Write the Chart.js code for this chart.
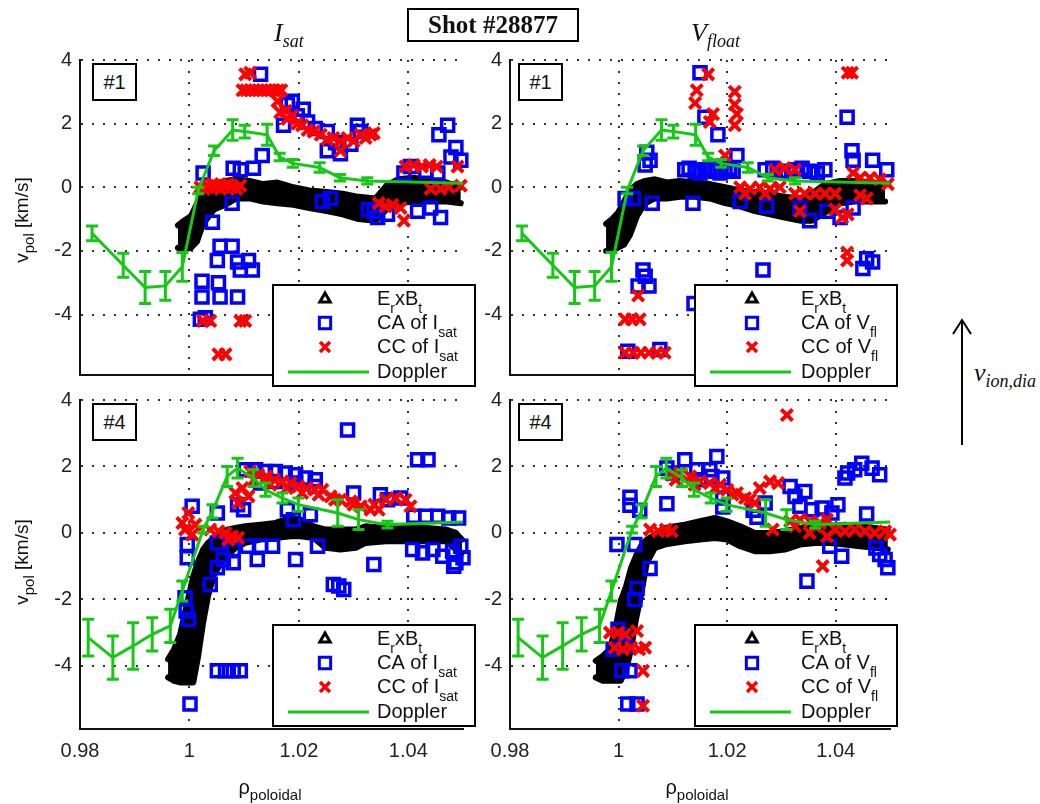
<!DOCTYPE html>
<html>
<head>
<meta charset="utf-8">
<script src="https://cdn.jsdelivr.net/npm/chart.js@4.4.1/dist/chart.umd.min.js"></script>
<style>
body { margin:0; background:#fff; width:1040px; height:804px; overflow:hidden; position:relative;
       font-family:"Liberation Sans", Arial, sans-serif; color:#111; }
canvas { position:absolute; }
.tag { position:absolute; border:2px solid #000; width:41px; height:34px; line-height:34px;
       text-align:center; font-size:20px; background:#fff; }
.ttl { position:absolute; font:italic 26px "Liberation Serif", serif; line-height:30px; white-space:nowrap; }
.ttl span { font-size:18px; position:relative; top:6px; }
.ylab { position:absolute; font-size:19px; white-space:nowrap; transform:translate(-50%,-50%) rotate(-90deg); }
.xlab { position:absolute; font-size:20px; white-space:nowrap; transform:translate(-50%,-50%); }
.ylab span, .xlab span { font-size:15px; position:relative; top:6px; }
#shot { position:absolute; left:407px; top:8px; width:168px; height:30px; border:2px solid #000;
        font:bold 25px "Liberation Serif", serif; line-height:30px; text-align:center; }
</style>
</head>
<body>
<canvas id="cTL" width="485" height="355" style="left:0;top:40px"></canvas>
<canvas id="cTR" width="480" height="355" style="left:430px;top:40px"></canvas>
<canvas id="cBL" width="485" height="420" style="left:0;top:380px"></canvas>
<canvas id="cBR" width="480" height="420" style="left:430px;top:380px"></canvas>

<div id="shot">Shot #28877</div>
<div class="ttl" style="left:274px;top:18px">I<span>sat</span></div>
<div class="ttl" style="left:691px;top:18px">V<span>float</span></div>
<div class="tag" style="left:92px;top:63px">#1</div>
<div class="tag" style="left:518px;top:63px">#1</div>
<div class="tag" style="left:92px;top:403px">#4</div>
<div class="tag" style="left:518px;top:403px">#4</div>
<div class="ylab" style="left:22px;top:220px">v<span>pol</span> [km/s]</div>
<div class="ylab" style="left:22px;top:562px">v<span>pol</span> [km/s]</div>
<div class="xlab" style="left:270px;top:787px">ρ<span>poloidal</span></div>
<div class="xlab" style="left:697px;top:787px">ρ<span>poloidal</span></div>
<svg style="position:absolute;left:950px;top:315px" width="26" height="135">
  <line x1="12" y1="5" x2="12" y2="130" stroke="#000" stroke-width="2"/>
  <polyline points="3,19 12,5 21,19" fill="none" stroke="#000" stroke-width="2"/>
</svg>
<div class="ttl" style="left:974px;top:358px">v<span>ion,dia</span></div>

<script>
const GREEN = 'rgb(20,200,20)';
const BLUE = '#0000ff';
const RED = '#ff0000';

// Doppler, probe #1 row (same in both columns)
const dopX1 = [0.9822, 0.9879, 0.9919, 0.9956, 0.9987, 1.0016, 1.0045, 1.0079, 1.0101, 1.0142, 1.0165, 1.0189, 1.0238, 1.0275, 1.0325, 1.0500];
const dopV1 = [-1.45, -2.45, -3.15, -3.1, -2.5, -0.1, 1.15, 1.8, 1.75, 1.65, 0.95, 0.75, 0.62, 0.3, 0.2, 0.13];
const dopE1 = [0.23, 0.38, 0.5, 0.45, 0.45, 0.1, 0.15, 0.32, 0.2, 0.33, 0.12, 0.12, 0.15, 0.1, 0.1, 0];

// Doppler, probe #4 row
const dopX4 = [0.9815, 0.9860, 0.9897, 0.9932, 0.9965, 0.9987, 1.0025, 1.0042, 1.0069, 1.0088, 1.0117, 1.0139, 1.0170, 1.0199, 1.0271, 1.0309, 1.0362, 1.0500];
const dopV4 = [-3.15, -3.75, -3.4, -3.05, -2.8, -1.75, 0.1, 0.65, 1.7, 1.95, 1.65, 1.3, 1.05, 0.85, 0.6, 0.4, 0.25, 0.33];
const dopE4 = [0.55, 0.65, 0.7, 0.5, 0.5, 0.3, 0.1, 0.2, 0.3, 0.3, 0.25, 0.2, 0.15, 0.2, 0.4, 0.3, 0.1, 0];

// ExB band (upper / lower edge of the point cloud)
const exbX_TL = [0.9979, 0.9990, 1.0003, 1.0014, 1.0025, 1.0045, 1.0066, 1.0086, 1.0110, 1.0135, 1.0161, 1.0190, 1.0219, 1.0251, 1.0280, 1.0309, 1.0340, 1.0360, 1.0381, 1.0410, 1.0439, 1.0470, 1.0496];
const exbHi_TL = [-1.2, -1.05, -0.9, -0.5, -0.15, 0.1, 0.2, 0.25, 0.2, 0.1, 0.15, 0.0, -0.1, -0.15, -0.2, -0.3, -0.35, 0.05, 0.25, 0.3, 0.2, 0.15, 0.0];
const exbLo_TL = [-1.9, -1.95, -1.9, -1.7, -1.15, -0.7, -0.55, -0.35, -0.35, -0.45, -0.5, -0.55, -0.65, -0.75, -0.85, -1.0, -1.05, -0.7, -0.5, -0.45, -0.45, -0.45, -0.5];

const exbX_TR = [0.9977, 0.9988, 0.9999, 1.0010, 1.0021, 1.0034, 1.0049, 1.0067, 1.0089, 1.0113, 1.0141, 1.0168, 1.0196, 1.0224, 1.0251, 1.0279, 1.0306, 1.0334, 1.0356, 1.0380, 1.0408, 1.0435, 1.0463, 1.0491];
const exbHi_TR = [-1.15, -1.0, -0.8, -0.45, -0.1, 0.1, 0.2, 0.25, 0.15, 0.2, 0.15, 0.1, 0.0, -0.1, -0.15, -0.2, -0.3, -0.35, -0.2, 0.1, 0.2, 0.2, 0.15, 0.1];
const exbLo_TR = [-2.0, -2.0, -1.9, -1.8, -1.5, -0.9, -0.5, -0.35, -0.35, -0.3, -0.3, -0.35, -0.5, -0.6, -0.75, -0.85, -0.95, -1.05, -1.05, -0.8, -0.5, -0.45, -0.45, -0.45];

const exbX_BL = [0.9961, 0.9972, 0.9983, 0.9996, 1.0007, 1.0016, 1.0025, 1.0034, 1.0044, 1.0056, 1.0069, 1.0084, 1.0102, 1.0130, 1.0157, 1.0185, 1.0203, 1.0227, 1.0249, 1.0276, 1.0304, 1.0322, 1.0359, 1.0395, 1.0432, 1.0469, 1.0487, 1.0498];
const exbHi_BL = [-3.8, -3.5, -3.05, -2.1, -1.3, -0.85, -0.5, -0.3, -0.15, 0.0, 0.1, 0.15, 0.2, 0.25, 0.3, 0.45, 0.4, 0.2, 0.1, 0.1, 0.1, 0.2, 0.15, 0.15, 0.15, 0.1, 0.0, -0.2];
const exbLo_BL = [-4.35, -4.45, -4.5, -4.5, -4.5, -3.7, -2.7, -1.9, -1.3, -0.95, -0.7, -0.45, -0.3, -0.2, -0.15, -0.1, -0.1, -0.15, -0.45, -0.5, -0.45, -0.3, -0.25, -0.25, -0.25, -0.25, -0.5, -0.6];

const exbX_BR = [0.9958, 0.9971, 0.9984, 0.9995, 1.0004, 1.0014, 1.0023, 1.0032, 1.0041, 1.0052, 1.0067, 1.0085, 1.0104, 1.0122, 1.0150, 1.0178, 1.0200, 1.0224, 1.0251, 1.0279, 1.0306, 1.0334, 1.0362, 1.0389, 1.0417, 1.0445, 1.0472, 1.0496];
const exbHi_BR = [-3.85, -3.7, -3.5, -2.8, -2.05, -1.6, -1.05, -0.7, -0.4, -0.2, -0.05, 0.15, 0.2, 0.25, 0.35, 0.45, 0.35, 0.2, 0.0, 0.0, 0.05, 0.15, 0.2, 0.2, 0.25, 0.2, 0.15, 0.1];
const exbLo_BR = [-4.35, -4.45, -4.45, -4.45, -4.45, -4.1, -3.5, -2.6, -1.9, -0.9, -0.45, -0.35, -0.3, -0.25, -0.2, -0.15, -0.2, -0.4, -0.55, -0.55, -0.5, -0.35, -0.3, -0.3, -0.35, -0.4, -0.45, -0.5];

// conditional average (blue squares)
const caX_TL = [1.0130, 1.0188, 1.0208, 1.0179, 1.0197, 1.0172, 1.0216, 1.0230, 1.0252, 1.0307, 1.0313, 1.0252, 1.0276, 1.0295, 1.0267, 1.0025, 1.0080, 1.0117, 1.0133, 1.0093, 1.0078, 1.0042, 1.0243, 1.0258, 1.0327, 1.0337, 1.0344, 1.0362, 1.0392, 1.0404, 1.0432, 1.0454, 1.0417, 1.0441, 1.0459, 1.0472, 1.0456, 1.0487, 1.0478, 1.0496, 1.0056, 1.0078, 1.0051, 1.0088, 1.0108, 1.0115, 1.0093, 1.0023, 1.0053, 1.0023, 1.0056, 1.0088, 1.0020, 1.0029];
const caV_TL = [3.55, 2.7, 2.45, 2.6, 2.25, 1.95, 2.05, 1.85, 1.75, 1.95, 1.75, 1.15, 1.05, 1.35, 1.4, 0.45, 0.6, 0.6, 1.0, 0.55, -0.5, -1.1, -0.45, -0.35, -0.7, -0.75, -0.95, -0.85, 0.45, 0.65, 0.5, 0.45, -0.75, -0.65, -0.95, 1.95, 1.65, 1.25, 0.95, 0.85, -1.85, -1.85, -2.3, -2.35, -2.3, -2.6, -2.6, -2.95, -3.0, -3.45, -3.45, -3.45, -4.15, -4.1];

const caX_TR = [1.0150, 1.0159, 1.0183, 1.0218, 1.0421, 1.0052, 1.0058, 1.0049, 1.0012, 1.0027, 1.0062, 1.0137, 1.0122, 1.0141, 1.0159, 1.0178, 1.0196, 1.0211, 1.0270, 1.0297, 1.0325, 1.0352, 1.0380, 1.0224, 1.0273, 1.0352, 1.0334, 1.0384, 1.0408, 1.0432, 1.0430, 1.0432, 1.0468, 1.0494, 1.0457, 1.0468, 1.0450, 1.0045, 1.0266, 1.0049, 1.0036, 1.0056, 1.0139, 1.0017, 1.0076, 1.0130, 1.0150, 1.0168, 1.0187, 1.0204, 1.0284, 1.0311, 1.0338, 1.0366];
const caV_TR = [3.6, 2.2, 1.65, 1.0, 2.2, 1.1, 0.85, 0.7, -0.35, -0.35, -0.5, -0.5, 0.55, 0.5, 0.55, 0.5, 0.55, 0.5, 0.55, 0.5, 0.55, 0.5, 0.55, -0.45, -0.6, -1.05, -0.65, -0.75, -0.95, -0.65, 1.15, 0.85, 0.85, 0.55, -2.25, -2.35, -2.55, -2.6, -2.6, -2.8, -3.1, -3.1, -3.65, -5.15, -5.1, 0.6, 0.45, 0.6, 0.45, 0.6, 0.6, 0.45, 0.6, 0.45];

const caX_BL = [1.0289, 1.0417, 1.0436, 1.0102, 1.0121, 1.0139, 1.0157, 1.0175, 1.0194, 1.0212, 1.0230, 1.0300, 1.0349, 1.0362, 1.0386, 1.0005, 1.0051, 1.0088, 1.0099, 1.0179, 1.0190, 1.0221, 1.0410, 1.0432, 1.0454, 1.0474, 1.0492, 0.9996, 0.9996, 1.0051, 1.0080, 1.0106, 1.0130, 1.0152, 1.0062, 1.0080, 1.0051, 1.0124, 1.0038, 1.0194, 1.0234, 1.0337, 1.0263, 1.0282, 1.0273, 1.0408, 1.0426, 1.0445, 1.0463, 1.0481, 1.0496, 1.0500, 1.0487, 1.0483, 0.9992, 0.9994, 0.9998, 1.0051, 1.0066, 1.0080, 1.0093, 1.0001, 1.0130, 1.0157, 1.0194, 1.0230];
const caV_BL = [3.1, 2.2, 2.2, 1.9, 1.9, 1.85, 1.85, 1.8, 1.75, 1.65, 1.6, 1.2, 1.15, 1.0, 1.05, 0.8, 0.6, 0.85, 0.7, 0.7, 0.4, 0.55, 0.5, 0.5, 0.5, 0.45, 0.45, -0.35, -0.75, -0.3, -0.5, -0.4, -0.4, -0.4, -0.8, -0.9, -1.05, -0.8, -1.55, -0.8, -0.4, -0.95, -1.55, -1.7, -1.6, -0.5, -0.6, -0.5, -0.7, -0.55, -0.4, -0.75, -0.9, -1.0, -1.95, -2.35, -2.6, -4.15, -4.15, -4.15, -4.15, -5.15, 1.5, 1.55, 1.5, 1.4];

const caX_BR = [1.0181, 1.0122, 1.0089, 1.0100, 1.0144, 1.0168, 1.0192, 1.0150, 1.0172, 1.0089, 1.0021, 1.0021, 1.0039, 0.9997, 1.0030, 1.0058, 1.0034, 1.0030, 0.9999, 0.9990, 1.0012, 1.0006, 1.0021, 1.0017, 1.0034, 1.0192, 1.0192, 1.0248, 1.0255, 1.0270, 1.0316, 1.0325, 1.0343, 1.0334, 1.0356, 1.0375, 1.0393, 1.0404, 1.0389, 1.0411, 1.0347, 1.0417, 1.0435, 1.0448, 1.0467, 1.0481, 1.0422, 1.0457, 1.0474, 1.0491, 1.0496, 1.0481];
const caV_BR = [2.3, 2.2, 1.95, 1.8, 1.9, 1.9, 1.65, 1.6, 1.7, 0.88, 1.07, 0.83, 0.68, -0.35, -0.35, -1.07, -1.67, -2.0, -2.9, -3.5, -3.4, -4.15, -4.15, -5.15, -5.15, 1.05, 0.78, 0.68, 0.47, 0.9, 1.4, 1.1, 1.25, 0.8, 0.7, 0.75, 0.6, 0.85, -0.4, -0.7, -1.45, 1.65, 1.9, 2.1, 1.95, 1.75, 1.8, 0.57, -0.45, -0.8, -1.05, -0.65];

// cross correlation (red crosses)
const ccX_TL = [1.0102, 1.0111, 1.0097, 1.0111, 1.0126, 1.0141, 1.0155, 1.0168, 1.0161, 1.0166, 1.0179, 1.0197, 1.0216, 1.0240, 1.0263, 1.0289, 1.0313, 1.0331, 1.0337, 1.0176, 1.0188, 1.0206, 1.0227, 1.0252, 1.0276, 1.0300, 1.0322, 1.0276, 1.0020, 1.0034, 1.0049, 1.0064, 1.0078, 1.0093, 1.0395, 1.0410, 1.0425, 1.0439, 1.0452, 1.0441, 1.0459, 1.0474, 1.0496, 1.0490, 1.0346, 1.0359, 1.0371, 1.0386, 1.0392, 1.0025, 1.0038, 1.0093, 1.0102, 1.0053, 1.0066, 1.0104, 1.0119, 1.0133, 1.0148, 1.0162, 1.0027, 1.0042, 1.0057, 1.0071, 1.0086];
const ccV_TL = [3.55, 3.6, 3.05, 3.05, 3.05, 3.05, 3.05, 3.05, 2.7, 2.35, 2.15, 2.0, 1.8, 1.65, 1.55, 1.55, 1.65, 1.65, 1.7, 2.4, 2.25, 1.95, 1.75, 1.5, 1.45, 1.45, 1.55, 1.15, 0.0, 0.05, 0.0, 0.05, 0.0, 0.05, 0.65, 0.7, 0.65, 0.7, 0.65, -0.05, -0.05, 0.0, 0.05, 0.65, -0.5, -0.6, -0.55, -0.65, -1.05, -4.2, -4.2, -4.2, -4.2, -5.25, -5.25, 3.05, 3.05, 3.05, 3.05, 3.05, -0.05, 0.1, -0.05, 0.1, -0.05];

const ccX_TR = [1.0165, 1.0430, 1.0422, 1.0144, 1.0141, 1.0174, 1.0168, 1.0214, 1.0214, 1.0218, 1.0214, 1.0196, 1.0224, 1.0242, 1.0260, 1.0279, 1.0297, 1.0233, 1.0270, 1.0288, 1.0306, 1.0325, 1.0325, 1.0343, 1.0362, 1.0380, 1.0399, 1.0334, 1.0399, 1.0412, 1.0422, 1.0432, 1.0445, 1.0463, 1.0481, 1.0496, 1.0445, 1.0457, 1.0421, 1.0421, 1.0036, 1.0012, 1.0025, 1.0039, 1.0012, 1.0027, 1.0041, 1.0056, 1.0071, 1.0085];
const ccV_TR = [3.55, 3.6, 3.6, 3.05, 2.65, 2.3, 2.05, 3.0, 2.6, 2.3, 1.95, 1.0, 0.0, -0.05, 0.0, -0.05, 0.0, -0.2, -0.2, 0.55, 0.6, 0.55, -0.2, -0.2, -0.2, -0.2, -0.2, -0.75, -0.7, -0.95, -0.85, 0.45, 0.3, 0.3, 0.25, 0.1, -0.25, -0.35, -2.05, -2.3, -3.4, -4.15, -4.15, -4.15, -5.2, -5.2, -5.2, -5.2, -5.2, -5.2];

const ccX_BL = [0.9987, 0.9998, 0.9992, 1.0005, 1.0011, 1.0038, 1.0053, 1.0066, 1.0078, 1.0089, 1.0071, 1.0084, 1.0097, 1.0108, 1.0089, 1.0111, 1.0126, 1.0141, 1.0155, 1.0170, 1.0185, 1.0199, 1.0214, 1.0229, 1.0243, 1.0258, 1.0276, 1.0295, 1.0313, 1.0331, 1.0346, 1.0359, 1.0377, 1.0395, 1.0404, 1.0118, 1.0148, 1.0178, 1.0206, 1.0236, 1.0266, 1.0300, 1.0338];
const ccV_BL = [0.3, 0.6, 0.1, -0.05, 0.25, 0.1, 0.05, 0.0, -0.1, -0.15, -0.2, 1.2, 1.35, 1.1, 0.9, 1.85, 1.75, 1.7, 1.6, 1.55, 1.5, 1.4, 1.35, 1.3, 1.3, 1.1, 1.0, 0.95, 0.8, 0.7, 0.7, 1.0, 1.05, 1.0, 0.8, 1.6, 1.45, 1.35, 1.2, 1.15, 1.0, 0.85, 0.85];

const ccX_BR = [1.0310, 1.0058, 1.0073, 1.0087, 1.0098, 1.0098, 1.0113, 1.0132, 1.0150, 1.0168, 1.0187, 1.0200, 1.0218, 1.0233, 1.0251, 1.0260, 1.0279, 1.0294, 1.0284, 1.0316, 1.0334, 1.0352, 1.0371, 1.0384, 1.0352, 1.0384, 1.0399, 1.0417, 1.0435, 1.0454, 1.0472, 1.0491, 1.0500, 1.0376, 0.9984, 0.9999, 1.0012, 1.0034, 0.9993, 1.0008, 1.0023, 1.0038, 1.0049, 1.0045, 1.0045, 1.0105, 1.0140, 1.0178, 1.0210, 1.0242, 1.0325, 1.0362];
const ccV_BR = [3.55, 0.1, 0.05, 0.1, 0.05, 1.75, 1.8, 1.7, 1.55, 1.5, 1.45, 1.3, 1.2, 1.05, 0.9, 1.35, 1.55, 1.5, 0.1, 0.35, 0.4, 0.35, 0.3, 0.4, 0.0, -0.1, 0.1, 0.05, 0.1, 0.05, 0.0, 0.05, -0.05, -1.0, -3.0, -3.0, -3.05, -2.95, -3.45, -3.5, -3.45, -3.5, -3.45, -4.15, -5.2, 1.6, 1.45, 1.35, 1.15, 1.0, 0.2, 0.2];

const xTicks = { min: 0.98, max: 1.05, step: 0.02 };
const yTicks = { min: -5.9, max: 4, step: 2 };

Chart.defaults.font.family = '"Liberation Sans", Arial, sans-serif';
Chart.defaults.color = '#222';

const pts = (xs, ys) => xs.map((x, i) => ({ x: x, y: ys[i] }));

function errBars(xs, vs, es) {
  return {
    id: 'errbars',
    afterDatasetsDraw(chart) {
      const ctx = chart.ctx, sx = chart.scales.x, sy = chart.scales.y;
      ctx.save();
      ctx.strokeStyle = GREEN;
      ctx.lineWidth = 3;
      for (let i = 0; i < xs.length; i++) {
        if (!es[i]) continue;
        const px = sx.getPixelForValue(xs[i]);
        const y1 = sy.getPixelForValue(vs[i] + es[i]);
        const y2 = sy.getPixelForValue(vs[i] - es[i]);
        ctx.beginPath();
        ctx.moveTo(px, y1); ctx.lineTo(px, y2);
        ctx.moveTo(px - 6, y1); ctx.lineTo(px + 6, y1);
        ctx.moveTo(px - 6, y2); ctx.lineTo(px + 6, y2);
        ctx.stroke();
      }
      ctx.restore();
    }
  };
}

function drawSegs(ctx, segs, x, y) {
  for (const s of segs) {
    ctx.font = (s[1] ? '14px' : '20px') + ' "Liberation Sans", Arial, sans-serif';
    ctx.fillText(s[0], x, s[1] ? y + 10 : y);
    x += ctx.measureText(s[0]).width;
  }
}

function boxLegend(bx, by, mk, tx, sig, sub) {
  return {
    id: 'boxlegend',
    afterDraw(chart) {
      const ctx = chart.ctx;
      const w = 202, h = 101;
      ctx.save();
      ctx.fillStyle = '#fff';
      ctx.fillRect(bx, by, w, h);
      ctx.lineWidth = 2;
      ctx.strokeStyle = '#000';
      ctx.strokeRect(bx, by, w, h);
      const rows = [14, 38, 62, 87].map(r => by + r);
      ctx.lineWidth = 3;
      ctx.strokeStyle = '#000'; ctx.fillStyle = '#fff';
      Chart.helpers.drawPoint(ctx, { pointStyle: 'triangle', radius: 6, borderWidth: 3 }, bx + mk, rows[0]);
      ctx.strokeStyle = BLUE; ctx.fillStyle = 'rgba(0,0,0,0)';
      Chart.helpers.drawPoint(ctx, { pointStyle: 'rect', radius: 8, borderWidth: 3 }, bx + mk, rows[1]);
      ctx.strokeStyle = RED; ctx.lineWidth = 3.5;
      Chart.helpers.drawPoint(ctx, { pointStyle: 'crossRot', radius: 7, borderWidth: 3.5 }, bx + mk, rows[2]);
      ctx.strokeStyle = GREEN; ctx.lineWidth = 3;
      ctx.beginPath(); ctx.moveTo(bx + 15, rows[3]); ctx.lineTo(bx + 96, rows[3]); ctx.stroke();
      ctx.fillStyle = '#111';
      ctx.textBaseline = 'middle';
      ctx.textAlign = 'left';
      drawSegs(ctx, [['E'], ['r', 1], ['xB'], ['t', 1]], bx + tx, rows[0]);
      drawSegs(ctx, [['CA of '], [sig], [sub, 1]], bx + tx, rows[1]);
      drawSegs(ctx, [['CC of '], [sig], [sub, 1]], bx + tx, rows[2]);
      drawSegs(ctx, [['Doppler']], bx + tx, rows[3]);
      ctx.restore();
    }
  };
}

function axisOpts(t, width, height, showLabels, pad) {
  const o = {
    type: 'linear', min: t.min, max: t.max,
    ticks: { display: showLabels, stepSize: t.step, includeBounds: false, padding: pad,
             color: '#222', font: { size: 20 },
             callback: v => String(Math.round(v * 100) / 100) },
    grid: { color: '#333', lineWidth: 2, drawTicks: false },
    border: { display: true, color: '#111', width: 2, dash: [2, 9] }
  };
  if (width) o.afterFit = s => { s.width = width; };
  if (height !== undefined) o.afterFit = s => { s.height = height; };
  return o;
}

function panel(id, padRight, xHeight, showX, d, leg) {
  return new Chart(document.getElementById(id), {
    type: 'scatter',
    data: {
      datasets: [
        { label: 'Doppler', data: pts(d.dopX, d.dopV), showLine: true, borderColor: GREEN,
          borderWidth: 3, pointRadius: 0, order: 0, clip: 10 },
        { label: 'CC', data: pts(d.ccX, d.ccV), pointStyle: 'crossRot', pointRadius: 8,
          pointBorderWidth: 4, pointBorderColor: RED, pointBackgroundColor: RED, order: 1, clip: 10 },
        { label: 'CA', data: pts(d.caX, d.caV), pointStyle: 'rect', pointRadius: 8.5,
          pointBorderWidth: 3.5, pointBorderColor: BLUE, pointBackgroundColor: 'rgba(0,0,0,0)', order: 2, clip: 10 },
        { label: 'ExB', data: pts(d.exbX, d.exbHi), showLine: true, fill: '+1', backgroundColor: '#000',
          borderColor: '#000', borderWidth: 6, borderJoinStyle: 'round', borderCapStyle: 'round',
          pointRadius: 0, order: 3, clip: 10 },
        { label: 'ExB lo', data: pts(d.exbX, d.exbLo), showLine: true, fill: false,
          borderColor: '#000', borderWidth: 6, borderJoinStyle: 'round', borderCapStyle: 'round',
          pointRadius: 0, order: 4, clip: 10 }
      ]
    },
    options: {
      responsive: false, animation: false, devicePixelRatio: 1,
      layout: { padding: { top: 17, right: padRight, left: 0, bottom: 0 } },
      plugins: { legend: { display: false }, tooltip: { enabled: false } },
      scales: {
        x: axisOpts(xTicks, 0, xHeight, showX, 10),
        y: axisOpts(yTicks, 80, undefined, true, 8)
      }
    },
    plugins: [errBars(d.dopX, d.dopV, d.dopE), boxLegend(leg[0], leg[1], leg[2], leg[3], leg[4], leg[5])]
  });
}

panel('cTL', 22, 6, false,
  { dopX: dopX1, dopV: dopV1, dopE: dopE1, exbX: exbX_TL, exbHi: exbHi_TL, exbLo: exbLo_TL,
    caX: caX_TL, caV: caV_TL, ccX: ccX_TL, ccV: ccV_TL },
  [273, 245, 52, 104, 'I', 'sat']);
panel('cTR', 20, 6, false,
  { dopX: dopX1, dopV: dopV1, dopE: dopE1, exbX: exbX_TR, exbHi: exbHi_TR, exbLo: exbLo_TR,
    caX: caX_TR, caV: caV_TR, ccX: ccX_TR, ccV: ccV_TR },
  [265, 245, 57, 106, 'V', 'fl']);
panel('cBL', 22, 71, true,
  { dopX: dopX4, dopV: dopV4, dopE: dopE4, exbX: exbX_BL, exbHi: exbHi_BL, exbLo: exbLo_BL,
    caX: caX_BL, caV: caV_BL, ccX: ccX_BL, ccV: ccV_BL },
  [273, 245, 52, 104, 'I', 'sat']);
panel('cBR', 20, 71, true,
  { dopX: dopX4, dopV: dopV4, dopE: dopE4, exbX: exbX_BR, exbHi: exbHi_BR, exbLo: exbLo_BR,
    caX: caX_BR, caV: caV_BR, ccX: ccX_BR, ccV: ccV_BR },
  [265, 245, 57, 106, 'V', 'fl']);
</script>
</body>
</html>
